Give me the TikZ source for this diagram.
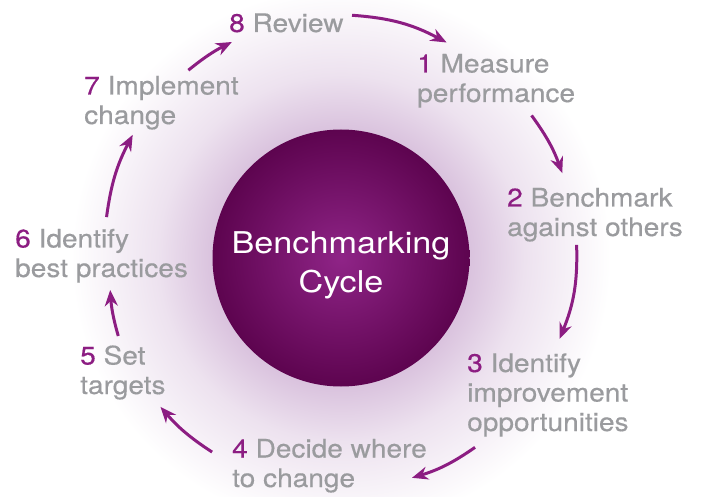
\documentclass[tikz,border=0pt]{standalone}
\usepackage{fontspec}
\setmainfont{TeX Gyre Heros}[FakeStretch=1.1,FakeBold=0.4]
\newfontfamily\hubfont{TeX Gyre Heros}[FakeStretch=1.14]
\usetikzlibrary{arrows.meta}
\usepackage{color}

\definecolor{plum}{HTML}{8C1D82}
\definecolor{stepgray}{HTML}{9A9B9E}
\definecolor{hubin}{HTML}{8F2487}
\definecolor{hubout}{HTML}{5D044F}
\definecolor{glowin}{HTML}{DAC3DE}
\definecolor{glowmid}{HTML}{EDE2EF}

\pgfdeclareradialshading{hubshade}{\pgfpoint{0bp}{0bp}}{color(0bp)=(hubin); color(25bp)=(hubout); color(50bp)=(hubout)}
\pgfdeclareradialshading{glowshade}{\pgfpoint{0bp}{0bp}}{color(0bp)=(glowin); color(12bp)=(glowin); color(17bp)=(glowmid); color(25bp)=(white); color(50bp)=(white)}

\newcommand{\stepnum}[1]{\textcolor{plum}{#1}}

\begin{document}
\begin{tikzpicture}[x=1pt,y=1pt]
\clip (0,0) rectangle (704,496);
\coordinate (mid) at (341,238);
\shade [shading=glowshade] (mid) circle (270);
\node [circle, minimum size=257pt, inner sep=0pt, shading=hubshade] (hub) at (mid) {};
\node [text=white, align=center, inner sep=0pt, font=\hubfont\fontsize{30}{39}\selectfont] (hubtext) at ([yshift=-7pt]hub.center) {Benchmarking\\Cycle};

% labels sit on the baseline of their last line
\begin{scope}[every node/.style={anchor=base west, inner sep=0pt, align=left, text=stepgray, font=\fontsize{25.5}{29.5}\selectfont}]
\node (s8) at (229,464) {\stepnum{8} Review};
\node (s1) at (417,394) {\stepnum{1} Measure\\performance};
\node (s2) at (507,260) {\stepnum{2} Benchmark\\against others};
\node (s3) at (467,65) {\stepnum{3} Identify\\improvement\\opportunities};
\node (s4) at (232,9) {\stepnum{4} Decide where\\to change};
\node (s5) at (80,102) {\stepnum{5} Set\\targets};
\node (s6) at (15,219) {\stepnum{6} Identify\\best practices};
\node (s7) at (84,372) {\stepnum{7} Implement\\change};
\end{scope}

\foreach \name/\ang/\rad in {out8/87.4/243, in1/63.9/240, out1/36.8/238, in2/21.0/237,
  out2/3.2/236, in3/-20.3/233, out3/-54.7/232, in4/-72.1/231,
  out4/-123.6/233, in5/-140.5/234, out5/-160.7/236, in6/-172.1/233,
  out6/170.1/238, in7/149.4/242, out7/129.1/242, in8/116.8/242}
  \path (mid) ++(\ang:\rad) coordinate (\name);

\begin{scope}[>={Stealth[length=16pt,width=13pt]}, draw=plum, line width=3pt]
\draw [->] (out8) to [bend left=12] (in1);
\draw [->] (out1) to [bend left=8] (in2);
\draw [->] (out2) to [bend left=12] (in3);
\draw [->] (out3) to [bend left=9] (in4);
\draw [->] (out4) to [bend left=8] (in5);
\draw [->] (out5) to [bend left=6] (in6);
\draw [->] (out6) to [bend left=10] (in7);
\draw [->] (out7) to [bend left=6] (in8);
\end{scope}
\end{tikzpicture}
\end{document}
